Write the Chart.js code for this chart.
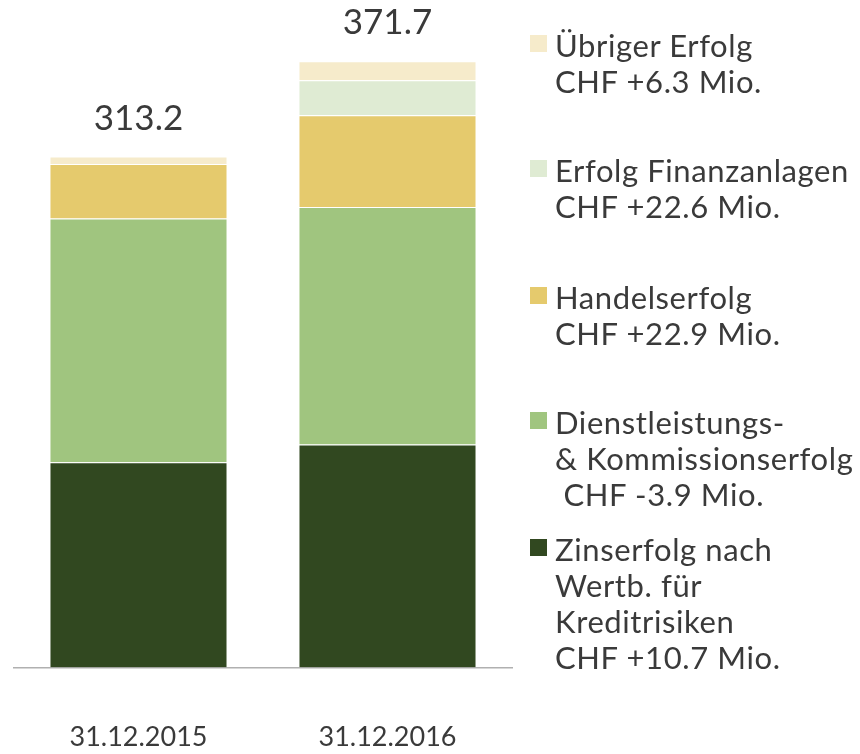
<!DOCTYPE html>
<html>
<head>
<meta charset="utf-8">
<script src="https://cdn.jsdelivr.net/npm/chart.js@4"></script>
<style>
  html, body { margin: 0; padding: 0; background: #fff; }
  #wrap { position: relative; width: 860px; height: 754px; overflow: hidden; }
  #bars { position: absolute; left: 0; top: 0; }
  #legend { position: absolute; left: 0; top: 0; width: 860px; height: 754px; pointer-events: none;
            font-family: Lato, "Noto Sans", sans-serif; font-size: 31px; letter-spacing: 0.6px; color: #3a3a3a; }
  .entry { position: absolute; left: 555px; line-height: 36px; white-space: pre; }
  .swatch { position: absolute; left: -25px; top: 8px; width: 17px; height: 17px; }
</style>
</head>
<body>
<div id="wrap">
  <canvas id="bars" width="520" height="754"></canvas>
  <div id="legend"></div>
</div>
<script>
// categories and values (CHF Mio.), bottom segment first
var dates = ['31.12.2015', '31.12.2016'];
var zinserfolg = [125.9, 136.7];
var dienstleistung = [149.4, 145.6];
var handelserfolg = [33.3, 56.2];
var finanzanlagen = [0, 21.5];
var uebriger = [4.6, 11.7];
var totals = ['313.2', '371.7'];

// legend text, top entry first
var legendNames = [
  'Übriger Erfolg',
  'Erfolg Finanzanlagen',
  'Handelserfolg',
  'Dienstleistungs-\n& Kommissionserfolg',
  'Zinserfolg nach\nWertb. für\nKreditrisiken'
];
var legendChanges = ['CHF +6.3 Mio.', 'CHF +22.6 Mio.', 'CHF +22.9 Mio.', ' CHF -3.9 Mio.', 'CHF +10.7 Mio.'];

var colors = {
  zins: '#314820',
  dienst: '#a0c57f',
  handel: '#e5ca6d',
  finanz: '#dfebd3',
  uebrig: '#f6ebcb'
};

var legendColors = [colors.uebrig, colors.finanz, colors.handel, colors.dienst, colors.zins];
var legendTops = [27, 152, 279, 404, 531];

// build the html legend
var legendDiv = document.getElementById('legend');
legendNames.forEach(function (name, i) {
  var entry = document.createElement('div');
  entry.className = 'entry';
  entry.style.top = legendTops[i] + 'px';
  var sw = document.createElement('div');
  sw.className = 'swatch';
  sw.style.background = legendColors[i];
  entry.appendChild(sw);
  entry.appendChild(document.createTextNode(name + '\n' + legendChanges[i]));
  legendDiv.appendChild(entry);
});

function makeSet(label, data, color) {
  return {
    label: label,
    data: data,
    backgroundColor: color,
    borderColor: 'rgba(255,255,255,0.45)',
    borderWidth: 1,
    borderSkipped: 'start',
    barPercentage: 0.715,
    categoryPercentage: 1.0
  };
}

// totals written above each stack
var totalLabels = {
  id: 'totalLabels',
  afterDatasetsDraw: function (chart) {
    var ctx = chart.ctx;
    var xs = chart.scales.x, ys = chart.scales.y;
    ctx.save();
    ctx.font = '35px Lato, "Noto Sans", sans-serif';
    ctx.fillStyle = '#3a3a3a';
    ctx.textAlign = 'center';
    ctx.textBaseline = 'middle';
    dates.forEach(function (d, i) {
      var sum = zinserfolg[i] + dienstleistung[i] + handelserfolg[i] + finanzanlagen[i] + uebriger[i];
      ctx.fillText(totals[i], xs.getPixelForValue(i), ys.getPixelForValue(sum) - 38);
    });
    ctx.restore();
  }
};

new Chart(document.getElementById('bars'), {
  type: 'bar',
  data: {
    labels: dates,
    datasets: [
      makeSet('Zinserfolg', zinserfolg, colors.zins),
      makeSet('Dienstleistungs- & Kommissionserfolg', dienstleistung, colors.dienst),
      makeSet('Handelserfolg', handelserfolg, colors.handel),
      makeSet('Erfolg Finanzanlagen', finanzanlagen, colors.finanz),
      makeSet('Übriger Erfolg', uebriger, colors.uebrig)
    ]
  },
  options: {
    responsive: false,
    maintainAspectRatio: false,
    devicePixelRatio: 1,
    animation: false,
    layout: { padding: { top: 15, left: 14, right: 8, bottom: 0 } },
    plugins: {
      legend: { display: false },
      tooltip: { enabled: false }
    },
    scales: {
      x: {
        stacked: true,
        grid: { display: false, drawTicks: false },
        border: { display: true, color: '#b0b0b0', width: 1.5 },
        ticks: {
          padding: 54,
          color: '#3a3a3a',
          font: { family: 'Lato, "Noto Sans", sans-serif', size: 27 }
        },
        afterFit: function (scale) {
          scale.height = 86.5;
        }
      },
      y: {
        stacked: true,
        display: false,
        min: 0,
        max: 400
      }
    }
  },
  plugins: [totalLabels]
});
</script>
</body>
</html>
